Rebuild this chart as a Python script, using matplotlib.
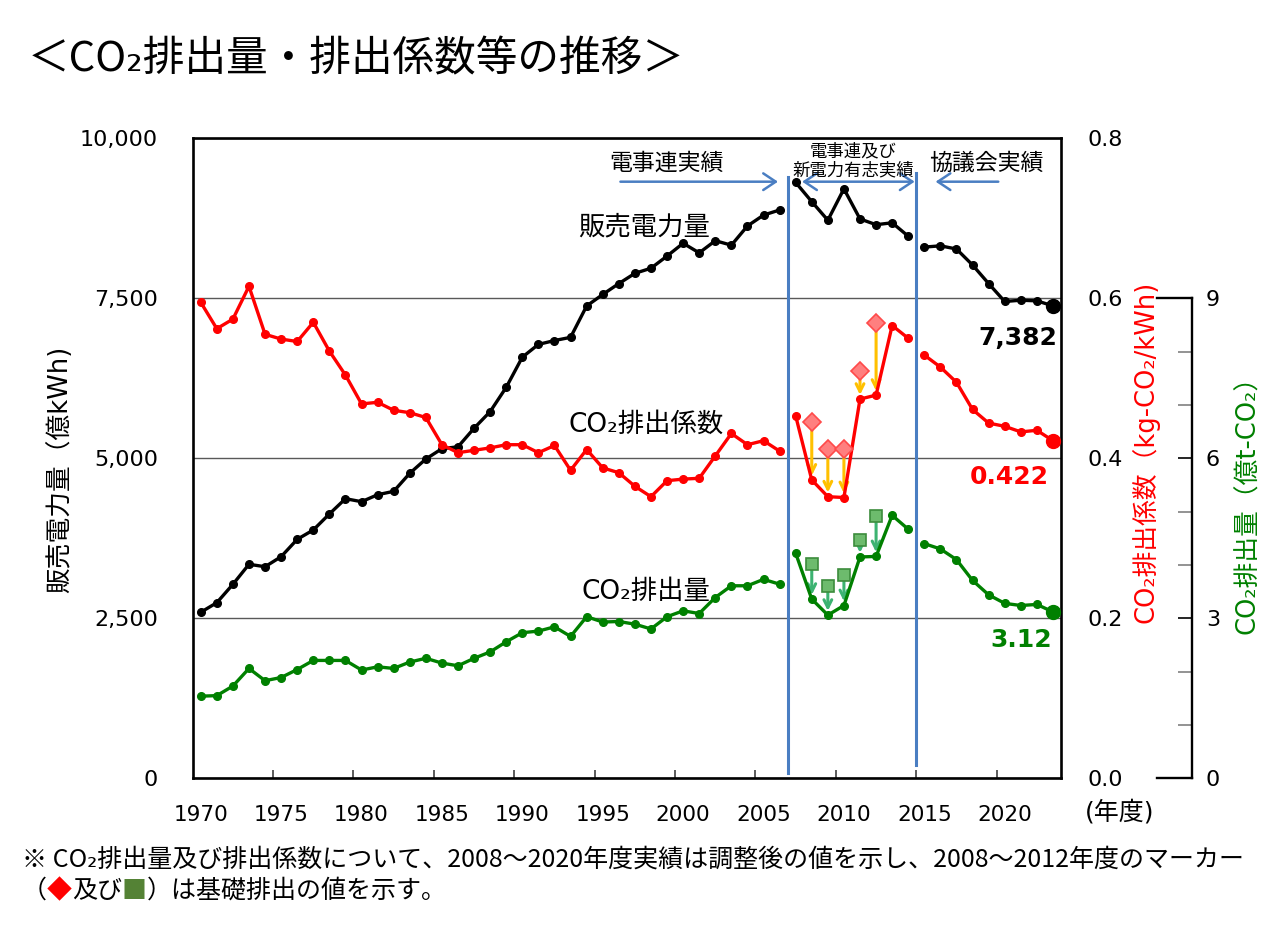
import matplotlib
matplotlib.use('Agg')
import matplotlib.pyplot as plt
import matplotlib.transforms as mtransforms
from matplotlib.ticker import FuncFormatter, FormatStrFormatter
import numpy as np

plt.rcParams['font.family'] = ['DejaVu Sans', 'Noto Sans CJK JP']
CJK = ['Noto Sans CJK JP', 'DejaVu Sans']

# fiscal years and the three reporting periods (lines are broken between them)
years = np.arange(1970, 2024)
periods = [(1970, 2006), (2007, 2014), (2015, 2023)]

# 販売電力量 (億kWh)
sales = np.array([
    2594, 2744, 3031, 3344, 3306, 3463, 3734, 3880, 4130, 4369,
    4322, 4431, 4484, 4766, 4989, 5150, 5180, 5470, 5730, 6110,
    6580, 6780, 6840, 6890, 7380, 7560, 7730, 7890, 7970, 8160,
    8360, 8210, 8400, 8330, 8630, 8800, 8880, 9310, 9010, 8720,
    9210, 8740, 8650, 8680, 8470, 8300, 8320, 8270, 8020, 7730,
    7450, 7470, 7460, 7382])

# CO2排出係数 (kg-CO2/kWh)
coef = np.array([
    0.595, 0.562, 0.574, 0.615, 0.555, 0.549, 0.546, 0.570, 0.534, 0.504,
    0.468, 0.470, 0.460, 0.457, 0.451, 0.417, 0.407, 0.410, 0.413, 0.417,
    0.417, 0.407, 0.416, 0.385, 0.411, 0.388, 0.382, 0.365, 0.352, 0.372,
    0.374, 0.375, 0.403, 0.431, 0.417, 0.422, 0.409, 0.453, 0.373, 0.352,
    0.351, 0.474, 0.479, 0.566, 0.550, 0.529, 0.514, 0.495, 0.461, 0.444,
    0.440, 0.433, 0.435, 0.422])

# CO2排出量 (億t-CO2)
emis = np.array([
    1.54, 1.55, 1.73, 2.06, 1.83, 1.89, 2.04, 2.21, 2.21, 2.21,
    2.03, 2.09, 2.06, 2.18, 2.25, 2.16, 2.11, 2.25, 2.37, 2.56,
    2.73, 2.76, 2.84, 2.66, 3.03, 2.93, 2.94, 2.89, 2.80, 3.03,
    3.14, 3.09, 3.39, 3.61, 3.61, 3.73, 3.64, 4.22, 3.36, 3.06,
    3.24, 4.15, 4.16, 4.93, 4.67, 4.40, 4.30, 4.10, 3.71, 3.44,
    3.28, 3.24, 3.26, 3.12])

# 基礎排出 (before adjustment), FY2008-2012
basic_years = np.arange(2008, 2013)
coef_basic = np.array([0.445, 0.412, 0.412, 0.509, 0.569])
emis_basic = np.array([4.01, 3.61, 3.81, 4.46, 4.92])

tick_years = np.arange(1970, 2021, 5)

BLUE = '#4A7EC2'


def plot_series(axis, values, color):
    for y0, y1 in periods:
        m = (years >= y0) & (years <= y1)
        axis.plot(years[m], values[m], color=color, lw=2.4, marker='o', ms=5.5,
                  zorder=5)
    axis.plot(years[-1], values[-1], 'o', color=color, ms=10, zorder=6)


fig = plt.figure(figsize=(12.8, 9.5), dpi=100)
ax = fig.add_axes([192.7 / 1280, 1 - 778.3 / 950, (1061 - 192.7) / 1280, 640 / 950])
ax2 = ax.twinx()
ax3 = ax.twinx()

# ---- left axis: sales
ax.set_xlim(1969.5, 2023.5)
ax.set_ylim(0, 10000)
ax.set_yticks(np.arange(0, 10001, 2500))
ax.yaxis.set_major_formatter(FuncFormatter(lambda v, p: f'{v:,.0f}'))
ax.tick_params(axis='y', length=0, pad=25, labelsize=16)
ax.grid(axis='y', color='#595959', lw=1)
ax.set_axisbelow(True)
ax.set_xticks(np.arange(1974.5, 2020, 5))
ax.set_xticklabels([])
ax.set_xticks(tick_years, [str(y) for y in tick_years], minor=True)
ax.tick_params(axis='x', which='major', direction='in', length=6, width=1.2, color='#404040')
ax.tick_params(axis='x', which='minor', length=0, pad=19, labelsize=15.5)
for s in ax.spines.values():
    s.set_linewidth(1.9)
    s.set_color('black')

plot_series(ax, sales, 'black')

# ---- coefficient axis
ax2.set_ylim(0, 0.8)
ax2.set_yticks(np.arange(0, 0.81, 0.2))
ax2.yaxis.set_major_formatter(FormatStrFormatter('%.1f'))
ax2.tick_params(axis='y', length=0, pad=19, labelsize=16)
for s in ax2.spines.values():
    s.set_visible(False)

for yr, b, a in zip(basic_years, coef_basic, coef[np.isin(years, basic_years)]):
    ax2.annotate('', xy=(yr, a), xytext=(yr, b),
                 arrowprops=dict(arrowstyle='->', color='#FFC000', lw=2.2,
                                 shrinkA=0, shrinkB=3, mutation_scale=14), zorder=4)
plot_series(ax2, coef, '#FF0000')
ax2.plot(basic_years, coef_basic, 'D', ms=9, mfc='#FF7F7F', mec='#FF4A4A', mew=1.2, zorder=7)

# ---- emissions axis
ax3.set_ylim(0, 12)
ax3.set_yticks([0, 3, 6, 9])
ax3.set_yticks([1, 2, 4, 5, 7, 8], minor=True)
ax3.tick_params(axis='y', which='major', direction='in', length=10, width=1.2, pad=10,
                labelsize=16, color='black')
ax3.tick_params(axis='y', which='minor', direction='in', length=10, width=1.2, color='#808080')
for k, s in ax3.spines.items():
    s.set_visible(k == 'right')
ax3.spines['right'].set_position(('axes', 1.1509))
ax3.spines['right'].set_bounds(0, 9)
ax3.spines['right'].set_linewidth(1.7)
cap = mtransforms.blended_transform_factory(ax3.transAxes, ax3.transData)
for v in (0, 9):
    ax3.plot([1.1106, 1.1509], [v, v], transform=cap, color='black', lw=1.7, clip_on=False)

for yr, b, a in zip(basic_years, emis_basic, emis[np.isin(years, basic_years)]):
    ax3.annotate('', xy=(yr, a), xytext=(yr, b),
                 arrowprops=dict(arrowstyle='->', color='#3CB371', lw=2.2,
                                 shrinkA=0, shrinkB=3, mutation_scale=14), zorder=4)
plot_series(ax3, emis, '#008000')
ax3.plot(basic_years, emis_basic, 's', ms=8.5, mfc='#6DBB6D', mec='#3C8C3C', mew=1.2, zorder=7)

# ---- period separators and arrows
for xv, y0, y1 in [(2006.5, 83, 9395), (2014.5, 208, 9458)]:
    ax.plot([xv, xv], [y0, y1], color=BLUE, lw=2.2, zorder=3)

arr_y = 9322
ap = dict(color=BLUE, lw=1.8, shrinkA=0, shrinkB=0, mutation_scale=20)
ax.annotate('', xy=(2005.9, arr_y), xytext=(1996.1, arr_y),
            arrowprops=dict(arrowstyle='->,head_length=0.45,head_width=0.3', **ap))
ax.annotate('', xy=(2014.4, arr_y), xytext=(2007.4, arr_y),
            arrowprops=dict(arrowstyle='<->,head_length=0.45,head_width=0.3', **ap))
ax.annotate('', xy=(2015.7, arr_y), xytext=(2019.6, arr_y),
            arrowprops=dict(arrowstyle='->,head_length=0.45,head_width=0.3', **ap))

ax.text(1998.95, 9614, '電事連実績', ha='center', va='center', fontsize=16.5, family=CJK)
ax.text(2010.6, 9790, '電事連及び', ha='center', va='center', fontsize=12.5, family=CJK)
ax.text(2010.6, 9505, '新電力有志実績', ha='center', va='center', fontsize=12.5, family=CJK)
ax.text(2018.85, 9614, '協議会実績', ha='center', va='center', fontsize=16.5, family=CJK)

# ---- series labels and latest values
ax.text(2001.7, 8614, '販売電力量', ha='right', va='center', fontsize=19, zorder=8)
ax.text(2002.5, 5520, 'CO₂排出係数', ha='right', va='center', fontsize=19, zorder=8)
ax.text(2001.7, 2911, 'CO₂排出量', ha='right', va='center', fontsize=19, zorder=8)
ax.text(2023.25, 6880, f'{sales[-1]:,}', ha='right', va='center', fontsize=18,
        fontweight='bold', color='black')
ax.text(2022.75, 4708, f'{coef[-1]:.3f}', ha='right', va='center', fontsize=18,
        fontweight='bold', color='#FF0000')
ax.text(2022.95, 2161, f'{emis[-1]:.2f}', ha='right', va='center', fontsize=18,
        fontweight='bold', color='#008000')

# ---- axis titles
fig.text(60 / 1280, 1 - 469 / 950, '販売電力量（億kWh)', rotation=90, ha='center',
         va='center', fontsize=18.5)
fig.text(1146 / 1280, 1 - 452 / 950, 'CO₂排出係数（kg-CO₂/kWh)', rotation=90,
         ha='center', va='center', fontsize=18.5, color='#FF0000')
fig.text(1248 / 1280, 1 - 498 / 950, 'CO₂排出量（億t-CO₂）', rotation=90,
         ha='center', va='center', fontsize=18.5, color='#008000')
fig.text(1120 / 1280, 1 - 812 / 950, '(年度)', ha='center', va='center', fontsize=18)

# ---- title
fig.text(28 / 1280, 1 - 60 / 950, '＜CO₂排出量・排出係数等の推移＞', ha='left',
         va='center', fontsize=30, family=CJK)

# ---- footnote
fig.text(22 / 1280, 1 - 860 / 950,
         '※ CO₂排出量及び排出係数について、2008～2020年度実績は調整後の値を示し、'
         '2008～2012年度のマーカー',
         ha='left', va='center', fontsize=18, family=CJK)

# second line: pieces chained one after another so the markers can be coloured
parts = [('（', 'black'), ('◆', '#FF0000'), ('及び', 'black'), ('■', '#548235'),
         ('）は基礎排出の値を示す。', 'black')]
cur = fig.text(22 / 1280, 1 - 891 / 950, parts[0][0], ha='left', va='center',
               fontsize=18, family=CJK, color=parts[0][1])
for txt, col in parts[1:]:
    cur = fig.add_artist(plt.Annotation(txt, xy=(1, 0), xycoords=cur, va='bottom',
                                        ha='left', fontsize=18, family=CJK, color=col))

fig.savefig('out.png', dpi=100)
